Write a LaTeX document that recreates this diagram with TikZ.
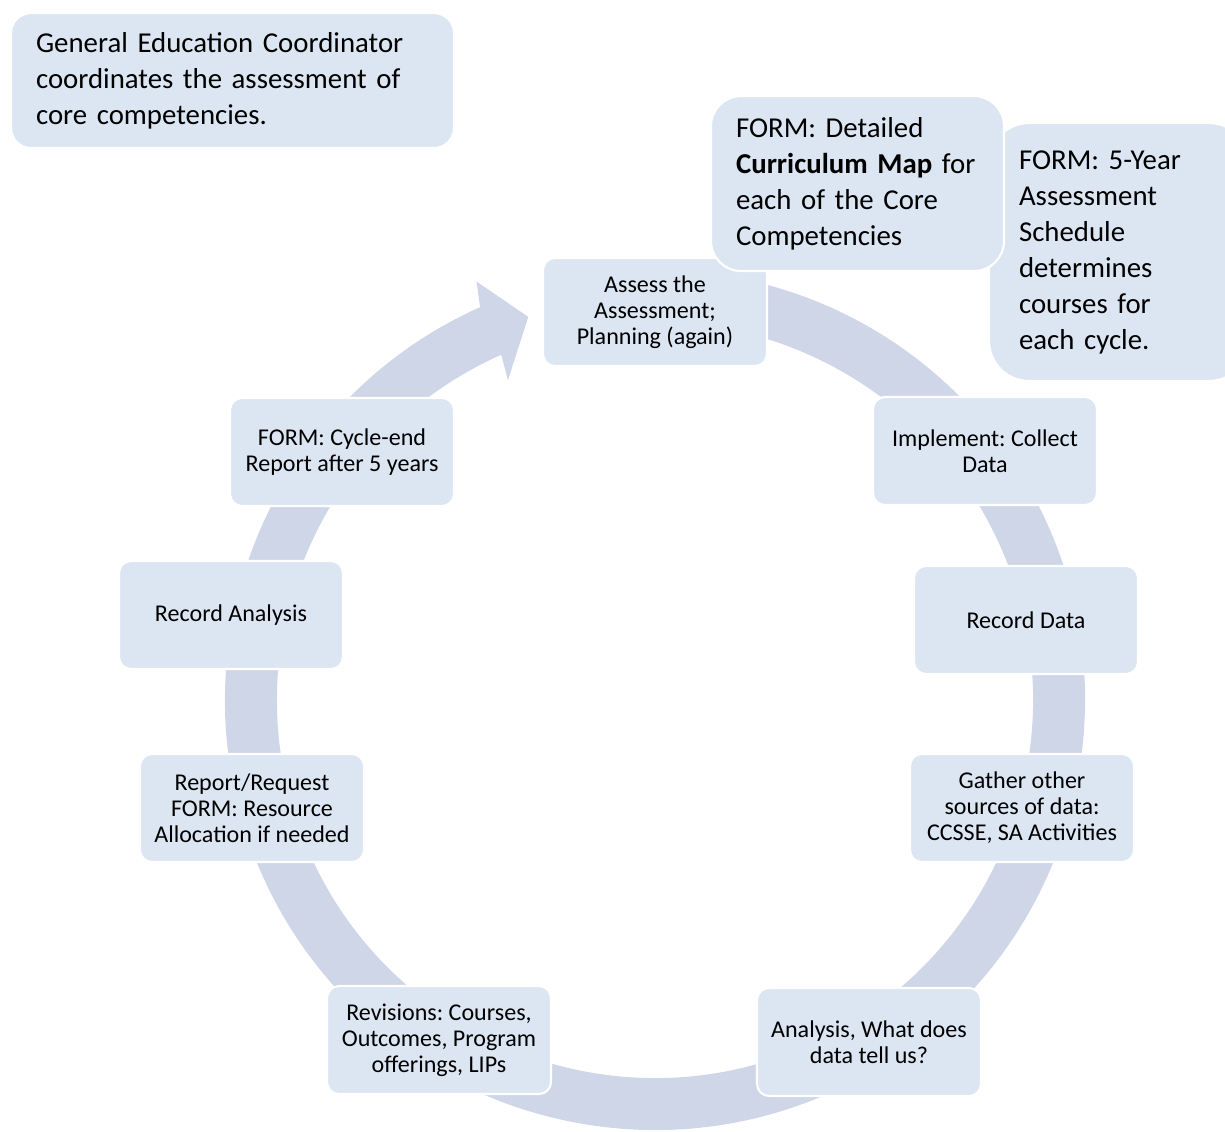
\documentclass[tikz,border=0pt]{standalone}
\usepackage{fontspec}
\setmainfont{Carlito}
\frenchspacing
\definecolor{boxfill}{HTML}{DCE6F2}
\definecolor{ringfill}{HTML}{CED6E8}
\begin{document}
\begin{tikzpicture}[x=0.02cm, y=-0.02cm,
  stage/.style = {shape=rectangle, rounded corners=0.24cm,
    draw=white, line width=1.2pt, fill=boxfill,
    minimum width=4.48cm, minimum height=2.16cm,
    align=center, font=\fontsize{13.7}{14.8}\selectfont},
  note/.style  = {shape=rectangle, anchor=north west,
    draw=white, line width=1.2pt, fill=boxfill,
    align=left, font=\fontsize{16.4}{20.5}\selectfont},
  ring/.style  = {fill=ringfill}]
\useasboundingbox (0,0) rectangle (1225,1132);
\clip (0,0) rectangle (1225,1132);
\begin{scope}[shift={(655,700)}]
\fill[ring] (-80:430) arc[start angle=-80, end angle=246, radius=430]
  -- (246.9:455) -- (251.7:403.5) -- (245.3:352) -- (246:378)
  arc[start angle=246, end angle=-80, radius=378] -- cycle;
\end{scope}
\node[stage] (assess) at (655,312) {Assess the\\Assessment;\\Planning (again)};
\node[stage] (implement) at (985,451) {Implement: Collect\\Data};
\node[stage] (recdata) at (1026,620) {Record Data};
\node[stage] (gather) at (1022,808) {Gather other\\sources of data:\\CCSSE, SA Activities};
\node[stage] (analysis) at (869,1042) {Analysis, What does\\data tell us?};
\node[stage] (revisions) at (439,1040) {Revisions: Courses,\\Outcomes, Program\\offerings, LIPs};
\node[stage] (report) at (252,808) {Report/Request\\FORM: Resource\\Allocation if needed};
\node[stage] (recanalysis) at (231,615) {Record Analysis};
\node[stage] (cycleend) at (342,452) {FORM: Cycle-end\\Report after 5 years};
\node[note, rounded corners=0.4cm, inner xsep=0.5cm, text width=7.86cm,
  minimum height=2.7cm] (coordinator) at (10,12)
  {General Education Coordinator\\coordinates the assessment of\\core competencies.};
\node[note, rounded corners=0.8cm, inner xsep=0.6cm, text width=4.0cm,
  minimum height=5.16cm] (schedule) at (988,122)
  {FORM: 5-Year\\Assessment\\Schedule\\determines\\courses for\\each cycle.};
\node[note, rounded corners=0.6cm, inner xsep=0.5cm, text width=4.86cm,
  minimum height=3.5cm] (curmap) at (710,95)
  {FORM: Detailed\\\textbf{Curriculum Map} for\\each of the Core\\Competencies};
\end{tikzpicture}
\end{document}
